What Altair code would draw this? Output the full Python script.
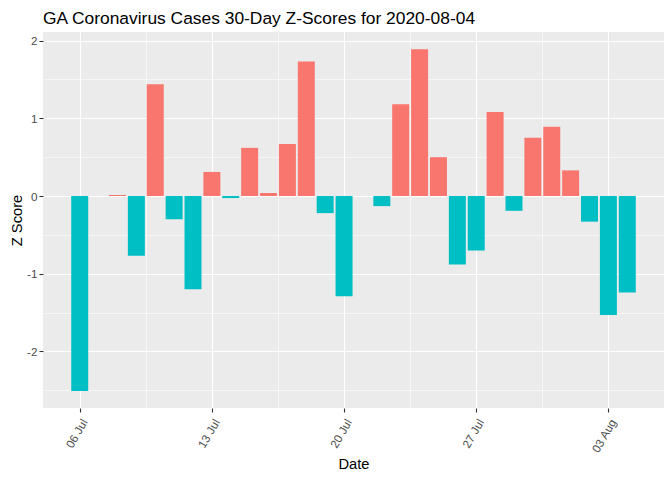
import altair as alt
import pandas as pd

title_text = "GA Coronavirus Cases 30-Day Z-Scores for 2020-08-04"

dates = ["2020-07-06", "2020-07-08", "2020-07-09", "2020-07-10", "2020-07-11",
         "2020-07-12", "2020-07-13", "2020-07-14", "2020-07-15", "2020-07-16",
         "2020-07-17", "2020-07-18", "2020-07-19", "2020-07-20", "2020-07-22",
         "2020-07-23", "2020-07-24", "2020-07-25", "2020-07-26", "2020-07-27",
         "2020-07-28", "2020-07-29", "2020-07-30", "2020-07-31", "2020-08-01",
         "2020-08-02", "2020-08-03", "2020-08-04"]
zscores = [-2.51, 0.013, -0.77, 1.44, -0.30,
           -1.20, 0.31, -0.026, 0.62, 0.039,
           0.67, 1.73, -0.22, -1.29, -0.13,
           1.18, 1.89, 0.50, -0.88, -0.70,
           1.08, -0.19, 0.75, 0.89, 0.33,
           -0.33, -1.53, -1.24]

start_date = "2020-07-06"
tick_days = [0, 7, 14, 21, 28]
tick_labels = ["06 Jul", "13 Jul", "20 Jul", "27 Jul", "03 Aug"]
minor_days = [3.5, 10.5, 17.5, 24.5]
y_major = [-2, -1, 0, 1, 2]
y_minor = [-2.5, -1.5, -0.5, 0.5, 1.5]

df = pd.DataFrame({"date": dates, "z": zscores})
df["positive"] = df["z"] > 0

label_expr = "datum.value % 7 === 0 ? " + str(tick_labels) + "[datum.value / 7] : ''"

x_vals = sorted(tick_days + minor_days)
y_vals = sorted(y_major + y_minor)

base = alt.Chart(df).transform_calculate(
    day="(toDate(datum.date) - toDate('" + start_date + "')) / 86400000"
).transform_calculate(
    d0="datum.day - 0.45", d1="datum.day + 0.45"
)

bars = base.mark_bar().encode(
    x=alt.X("d0:Q", title="Date",
            scale=alt.Scale(domain=[-1.945, 29 + 1.945], nice=False, zero=False),
            axis=alt.Axis(values=x_vals, labelExpr=label_expr,
                          labelAngle=-60, labelAlign="right", labelBaseline="top",
                          labelPadding=5, tickSize=4,
                          tickOpacity={"condition": {"test": "datum.value % 7 === 0", "value": 1}, "value": 0},
                          gridWidth={"condition": {"test": "datum.value % 7 === 0", "value": 1.1}, "value": 0.55},
                          titlePadding=2)),
    x2="d1:Q",
    y=alt.Y("z:Q", title="Z Score",
            scale=alt.Scale(domain=[-2.728, 2.111], nice=False, zero=False),
            axis=alt.Axis(values=y_vals,
                          labelExpr="datum.value % 1 === 0 ? '' + datum.value : ''",
                          tickSize=4, labelPadding=2,
                          tickOpacity={"condition": {"test": "datum.value % 1 === 0", "value": 1}, "value": 0},
                          gridWidth={"condition": {"test": "datum.value % 1 === 0", "value": 1.1}, "value": 0.55},
                          titlePadding=2)),
    y2=alt.datum(0),
    color=alt.Color("positive:N",
                    scale=alt.Scale(domain=[True, False], range=["#F8766D", "#00BFC4"]),
                    legend=None),
)

title_mark = alt.Chart(pd.DataFrame({"t": [title_text]})).mark_text(
    align="left", baseline="alphabetic", fontSize=17.4, font="Liberation Sans",
    color="black"
).encode(x=alt.value(0), y=alt.value(-8.5), text="t:N")

chart = alt.layer(bars, title_mark).properties(
    width=621, height=376,
    background="white",
    autosize=alt.AutoSizeParams(type="none"),
    padding={"left": 35, "top": 24, "right": 0, "bottom": 64},
).configure_view(
    fill="#EBEBEB", stroke=None
).configure_axis(
    grid=True, gridColor="white", domain=False,
    tickColor="#333333", tickWidth=1.1,
    labelColor="#4D4D4D", labelFontSize=11.7, labelFont="Liberation Sans",
    titleColor="black", titleFontSize=14.7, titleFont="Liberation Sans",
    titleFontWeight="normal",
)

chart.save("out.html", embed_options={"renderer": "svg", "actions": False})
